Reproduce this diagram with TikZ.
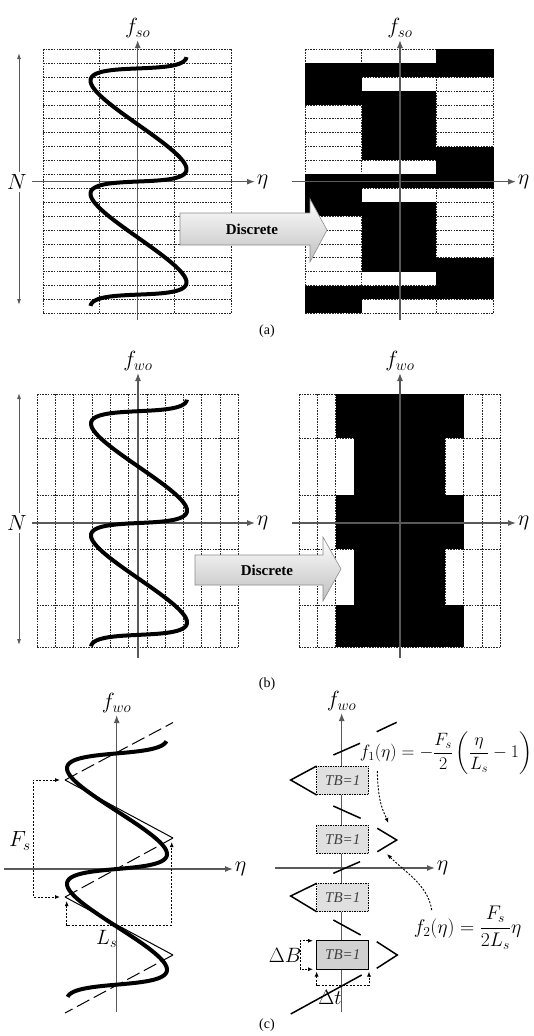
\documentclass[tikz,border=0pt]{standalone}
\usepackage{amsmath}
\usepackage{fontspec}
\setmainfont{Liberation Serif}
\usetikzlibrary{arrows.meta}
\begin{document}
\begin{tikzpicture}[x=1pt,y=-1pt,
  gridl/.style={black!85,line width=0.6pt,dash pattern=on 1.6pt off 1.1pt},
  axisl/.style={draw=black!65,line width=1.3pt,-{Latex[length=8pt,width=6pt]}},
  narrow/.style={draw=black!65,line width=0.9pt,{Latex[length=6pt,width=4pt]}-{Latex[length=6pt,width=4pt]}},
  curvel/.style={black,line width=4pt},
  blk/.style={fill=black},
  lab/.style={font=\fontsize{20.74}{25}\selectfont,inner sep=1pt,scale=1.06},
  slab/.style={font=\fontsize{20.74}{25}\selectfont,inner sep=1pt},
  captxt/.style={font=\fontsize{14}{16}\selectfont},
  thinl/.style={black,line width=1pt},
  longdash/.style={black,line width=1pt,dash pattern=on 14pt off 5pt},
  segl/.style={black,line width=1.5pt},
  dbr/.style={black,line width=0.9pt,dash pattern=on 2pt off 1.5pt},
  dbrarr/.style={dbr,{Latex[length=5pt,width=4pt]}-{Latex[length=5pt,width=4pt]}},
  dbrone/.style={dbr,-{Latex[length=5pt,width=4pt]}},
  arrowbox/.style={draw=black!45,line width=0.6pt,top color=white,bottom color=black!25},
  tbbox/.style={draw=black,line width=0.7pt,dash pattern=on 1.5pt off 1pt,fill=black!12,minimum width=52pt,minimum height=28.5pt,inner sep=0pt,font=\fontsize{15}{17}\selectfont\itshape,text=black!75},
  tbsolid/.style={tbbox,solid,line width=1.1pt,fill=black!18}
]
\useasboundingbox (0,0) rectangle (533,1036);

% ================= (a) =================
\foreach \i in {0,...,19} \draw[gridl] (43,{49.3+\i*13.895}) -- (231.5,{49.3+\i*13.895});
\foreach \x in {43,99.5,174,231.5} \draw[gridl] (\x,49.3) -- (\x,313.3);
\foreach \i in {0,...,19} \draw[gridl] (305,{49.3+\i*13.895}) -- (493.5,{49.3+\i*13.895});
\foreach \x in {305,361.5,436,493.5} \draw[gridl] (\x,49.3) -- (\x,313.3);
\foreach \r/\a/\b in {0/436/493.5,1/305/493.5,2/305/361.5,3/305/436,4/361.5/436,5/361.5/436,6/361.5/436,7/361.5/493.5,8/436/493.5,9/305/493.5,10/305/361.5,11/305/436,12/361.5/436,13/361.5/436,14/361.5/436,15/361.5/493.5,16/436/493.5,17/305/493.5,18/305/361.5}
  \fill[blk] (\a,{49.3+\r*13.895}) rectangle (\b,{49.3+(\r+1)*13.895});
\draw[axisl] (137.7,320) -- (137.7,40) node[lab,anchor=south] (fsoL) {$f_{so}$};
\draw[axisl] (32,181.7) -- (255,181.7) node[lab,anchor=west] (etaaL) {$\eta$};
\draw[axisl] (400,320) -- (400,40) node[lab,anchor=south] (fsoR) {$f_{so}$};
\draw[axisl] (292,181.7) -- (516,181.7) node[lab,anchor=west] (etaaR) {$\eta$};
\draw[narrow] (19,53) -- (19,305);
\node[lab,fill=white,inner sep=2pt] (Na) at (17,182) {$N$};
\draw[curvel] plot[domain=-7.8:7.8,samples=300,variable=\t] ({138.5+48*sin(\t r)},{181.5-(18*\t-16*sin(\t r))});
\shade[arrowbox] (180,213) -- (310,213) -- (310,199) -- (327,230) -- (310,262) -- (310,245) -- (180,245) -- cycle;
\node[font=\fontsize{15}{17}\selectfont\bfseries] (disca) at (252,229) {Discrete};
\node[captxt] (capa) at (267,331) {(a)};

% ================= (b) =================
\foreach \y in {394,438,495,549,605,647} {
  \draw[gridl] (37,\y) -- (238.3,\y);
  \draw[gridl] (299,\y) -- (500.3,\y);
}
\foreach \k in {0,...,11} {
  \draw[gridl] ({37+\k*18.3},394) -- ({37+\k*18.3},647);
  \draw[gridl] ({299+\k*18.3},394) -- ({299+\k*18.3},647);
}
\fill[blk] (335.6,394) rectangle (463.7,438);
\fill[blk] (353.9,438) rectangle (445.4,495);
\fill[blk] (335.6,495) rectangle (463.7,549);
\fill[blk] (353.9,549) rectangle (445.4,605);
\fill[blk] (335.6,605) rectangle (463.7,647);
\draw[axisl] (138,658) -- (138,373) node[lab,anchor=south] (fwoL) {$f_{wo}$};
\draw[axisl] (32,523) -- (255,523) node[lab,anchor=west] (etabL) {$\eta$};
\draw[axisl] (400,658) -- (400,373) node[lab,anchor=south] (fwoR) {$f_{wo}$};
\draw[axisl] (292,523) -- (516,523) node[lab,anchor=west] (etabR) {$\eta$};
\draw[narrow] (19,393) -- (19,645);
\node[lab,fill=white,inner sep=2pt] (Nb) at (17,523) {$N$};
\draw[curvel] plot[domain=-7.8:7.8,samples=300,variable=\t] ({139+48*sin(\t r)},{523-(17.8*\t-15.5*sin(\t r))});
\shade[arrowbox] (195,555) -- (323,555) -- (323,537) -- (341,569) -- (323,601) -- (323,585) -- (195,585) -- cycle;
\node[font=\fontsize{15}{17}\selectfont\bfseries] (discb) at (267,570) {Discrete};
\node[captxt] (capb) at (267,684) {(b)};

% ================= (c) left =================
\draw[axisl] (116.7,1012) -- (116.7,715) node[lab,anchor=south] (fwoc) {$f_{wo}$};
\draw[axisl] (4,869) -- (233,869) node[lab,anchor=west] (etac) {$\eta$};
\coordinate (T0) at (173,722.5);
\coordinate (L1) at (65,780);
\coordinate (R1) at (173,838);
\coordinate (O1) at (119,867.5);
\coordinate (L2) at (65,897);
\coordinate (R2) at (173,955);
\coordinate (B0) at (65,1013);
\draw[longdash] (L1) -- (T0);
\draw[longdash] (R1) -- (O1);
\draw[longdash] (L2) -- (O1);
\draw[longdash] (R2) -- (B0);
\draw[thinl] (L1) -- (R1);
\draw[thinl] (L2) -- (R2);
\draw[curvel] plot[domain=-7.7:7.7,samples=300,variable=\t] ({117+50*sin(\t r)},{869-(18.4*\t-14*sin(\t r))});
\draw[dbrarr] (60,780) -- (33.3,780) -- (33.3,897) -- (60,897);
\node[lab] (Fs) at (20,841) {$F_s$};
\draw[dbrarr] (66.7,901) -- (66.7,925) -- (171.7,925) -- (171.7,842);
\node[slab] (Ls) at (106.7,939) {$L_s$};

% ================= (c) right =================
\draw[axisl] (341.7,1012) -- (341.7,713) node[lab,anchor=south] (fwoc2) {$f_{wo}$};
\draw[axisl] (275,868) -- (435,868) node[lab,anchor=west] (etac2) {$\eta$};
\draw[segl] (333.3,755) -- (360,743.3);
\draw[segl] (376.7,731.7) -- (396.7,722.3);
\draw[segl] (316.7,766) -- (290.7,780) -- (316.7,795);
\draw[segl] (333.3,806) -- (360.7,818.3);
\draw[segl] (377.3,828.3) -- (396.7,840) -- (377.3,851.7);
\draw[segl] (333.3,873.3) -- (360,861.7);
\draw[segl] (316.7,883.3) -- (290.7,896) -- (316.7,911.7);
\draw[segl] (333.3,920) -- (360.7,935);
\draw[segl] (376.7,941.7) -- (397.3,955) -- (376.7,968.3);
\draw[segl] (290.7,1014) -- (361.7,975);
\node[tbbox] (tb1) at (342.8,780.5) {TB=1};
\node[tbbox] (tb2) at (342.8,839.5) {TB=1};
\node[tbbox] (tb3) at (342.8,897.5) {TB=1};
\node[tbsolid] (tb4) at (342.8,955) {TB=1};
\draw[dbrarr] (313,940.75) -- (300,940.75) -- (300,969.25) -- (313,969.25);
\node[slab] (dB) at (285,955) {$\Delta B$};
\draw[dbrarr] (316.6,971.5) -- (316.6,985) -- (369,985) -- (369,971.5);
\node[slab] (dt) at (330,997) {$\Delta t$};
\node[slab,scale=0.86] (f1) at (446,753) {$f_1(\eta)=-\dfrac{F_s}{2}\left(\dfrac{\eta}{L_s}-1\right)$};
\node[slab,scale=0.95] (f2) at (467.5,928) {$f_2(\eta)=\dfrac{F_s}{2L_s}\eta$};
\draw[dbrone] (377.3,771) .. controls (378,805) and (384,812) .. (388.3,823);
\draw[dbrone] (431.7,910) .. controls (428,885) and (405,872) .. (387,854);
\node[captxt] (capc) at (267,1025) {(c)};
\end{tikzpicture}
\end{document}
